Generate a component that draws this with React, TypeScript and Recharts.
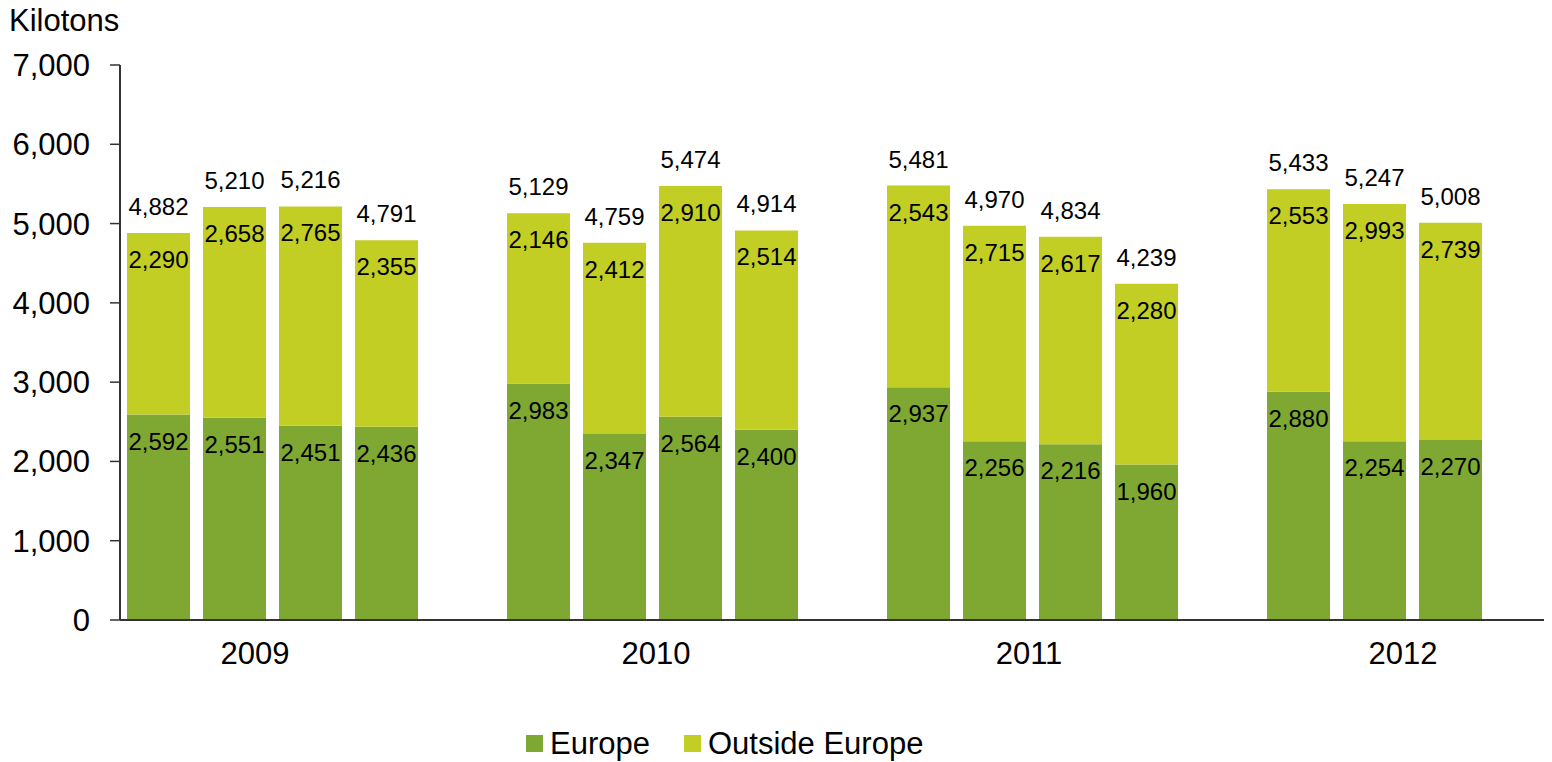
import React from 'react'
import { BarChart, Bar, XAxis, YAxis, Legend, LabelList } from 'recharts'

// quarters per year, with one empty slot between years
const categories = [
    '2009 Q1', '2009 Q2', '2009 Q3', '2009 Q4', 'gap-1',
    '2010 Q1', '2010 Q2', '2010 Q3', '2010 Q4', 'gap-2',
    '2011 Q1', '2011 Q2', '2011 Q3', '2011 Q4', 'gap-3',
    '2012 Q1', '2012 Q2', '2012 Q3',
]

const europe = [
    2592, 2551, 2451, 2436, null,
    2983, 2347, 2564, 2400, null,
    2937, 2256, 2216, 1960, null,
    2880, 2254, 2270,
]

const outsideEurope = [
    2290, 2658, 2765, 2355, null,
    2146, 2412, 2910, 2514, null,
    2543, 2715, 2617, 2280, null,
    2553, 2993, 2739,
]

const totals = [
    4882, 5210, 5216, 4791, null,
    5129, 4759, 5474, 4914, null,
    5481, 4970, 4834, 4239, null,
    5433, 5247, 5008,
]

const yTicks = [0, 1000, 2000, 3000, 4000, 5000, 6000, 7000]

const data = categories.map((key, i) => ({
    key,
    europe: europe[i],
    outside: outsideEurope[i],
    total: totals[i],
}))

const FONT = '"Liberation Sans", Arial, sans-serif'
const EUROPE_COLOR = '#7FA832'
const OUTSIDE_COLOR = '#C2CE23'
const AXIS_FONT = 31
const LABEL_FONT = 24

// year labels sit a little right of the second quarter
const yearNudge: Record<string, number> = { '2009': 21, '2010': 42, '2011': 35, '2012': 29 }

const fmt = (v: any) => (v == null ? '' : Number(v).toLocaleString('en-US'))

const YearTick = (props: any) => {
    const { x, y, payload } = props
    const v = String(payload.value)
    if (!v.endsWith('Q2')) return <g />
    const year = v.slice(0, 4)
    return (
        <text x={x + yearNudge[year]} y={y} dy={36} textAnchor='middle' fontSize={AXIS_FONT} fill='#000'>
            {year}
        </text>
    )
}

const LegendContent = () => {
    const items = [
        { name: 'Europe', color: EUROPE_COLOR },
        { name: 'Outside Europe', color: OUTSIDE_COLOR },
    ]
    return (
        <div style={{ height: 72, paddingLeft: 518, boxSizing: 'border-box' }}>
            <div style={{ display: 'flex', alignItems: 'center', marginTop: 40, height: 27 }}>
                {items.map((it) => (
                    <div key={it.name} style={{ display: 'flex', alignItems: 'center', marginRight: 34 }}>
                        <span style={{ width: 17, height: 17, background: it.color, display: 'inline-block', marginRight: 7 }} />
                        <span style={{ fontSize: AXIS_FONT, lineHeight: '27px', color: '#000', fontFamily: FONT }}>{it.name}</span>
                    </div>
                ))}
            </div>
        </div>
    )
}

export default function App() {
    return (
        <div style={{ fontFamily: FONT }}>
            <style>{'.recharts-surface { overflow: visible; }'}</style>
            <BarChart
                width={1544}
                height={754}
                data={data}
                margin={{ top: 57, right: 0, left: 0, bottom: 0 }}
                style={{ fontFamily: FONT }}
            >
                <XAxis
                    dataKey='key'
                    interval={0}
                    tickLine={false}
                    tick={<YearTick />}
                    axisLine={{ stroke: '#333', strokeWidth: 2 }}
                    padding={{ left: 0, right: 64 }}
                    height={70}
                />
                <YAxis
                    width={112}
                    domain={[0, 7000]}
                    ticks={yTicks}
                    interval={0}
                    tickFormatter={fmt}
                    tick={{ fontSize: AXIS_FONT, fill: '#000' }}
                    tickSize={10}
                    tickMargin={20}
                    tickLine={{ stroke: '#333', strokeWidth: 1.5 }}
                    axisLine={{ stroke: '#333', strokeWidth: 2 }}
                    label={{
                        content: () => (
                            <text x={1} y={23} fontSize={AXIS_FONT} fill='#000'>
                                Kilotons
                            </text>
                        ),
                    }}
                />
                <Legend verticalAlign='bottom' height={72} content={<LegendContent />} wrapperStyle={{ left: 0, width: 1544 }} />
                <Bar dataKey='europe' name='Europe' stackId='a' fill={EUROPE_COLOR} barSize={63} isAnimationActive={false}>
                    <LabelList dataKey='europe' position='insideTop' offset={18} formatter={fmt} fill='#000' fontSize={LABEL_FONT} />
                </Bar>
                <Bar dataKey='outside' name='Outside Europe' stackId='a' fill={OUTSIDE_COLOR} barSize={63} isAnimationActive={false}>
                    <LabelList dataKey='outside' position='insideTop' offset={18} formatter={fmt} fill='#000' fontSize={LABEL_FONT} />
                    <LabelList dataKey='total' position='top' offset={18} formatter={fmt} fill='#000' fontSize={LABEL_FONT} />
                </Bar>
            </BarChart>
        </div>
    )
}
